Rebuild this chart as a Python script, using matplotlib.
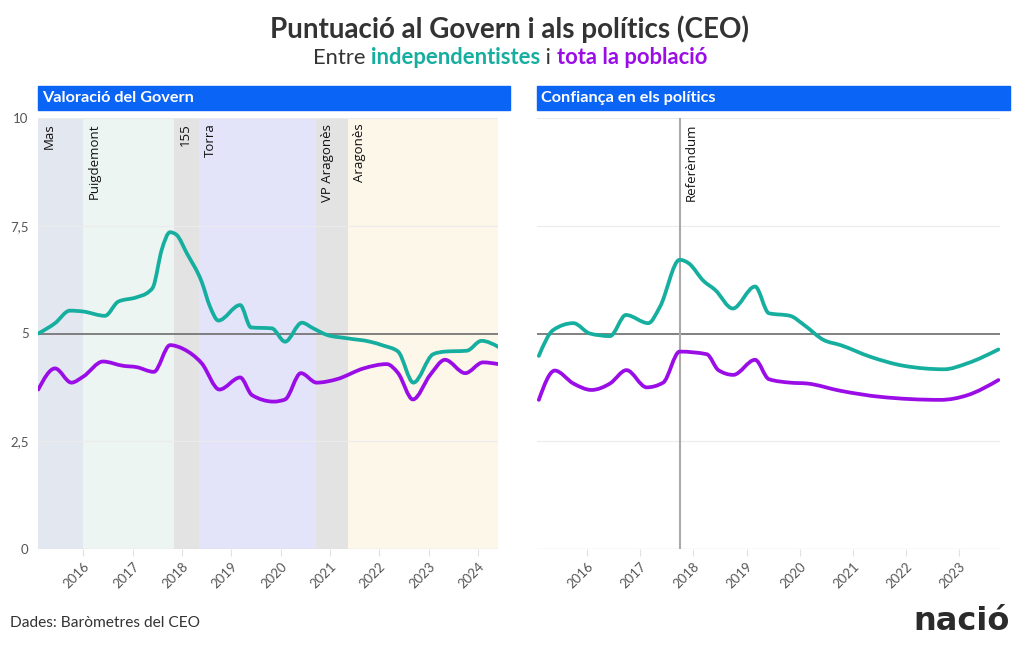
import matplotlib
matplotlib.use("Agg")
import matplotlib.pyplot as plt
from matplotlib.patches import Rectangle, PathPatch
from matplotlib.path import Path
import numpy as np

plt.rcParams['font.family'] = ['Lato', 'DejaVu Sans']

# ---------------- data ----------------
# Left panel: Valoració del Govern
gov_ind_t = [2015.09, 2015.43, 2015.73, 2016.00, 2016.44, 2016.71, 2017.08, 2017.33, 2017.42,
             2017.59, 2017.76, 2017.89, 2018.10, 2018.40, 2018.57, 2018.74, 2019.18, 2019.40,
             2019.82, 2020.09, 2020.43, 2020.66, 2020.93, 2021.34, 2021.81, 2022.08, 2022.38,
             2022.69, 2023.09, 2023.33, 2023.77, 2024.07, 2024.41]
gov_ind_v = [5.00, 5.24, 5.53, 5.51, 5.41, 5.74, 5.84, 5.97, 6.09,
             6.94, 7.35, 7.29, 6.86, 6.20, 5.62, 5.30, 5.66, 5.14,
             5.12, 4.81, 5.25, 5.12, 4.97, 4.89, 4.81, 4.72, 4.58,
             3.86, 4.52, 4.58, 4.60, 4.83, 4.69]

gov_all_t = [2015.09, 2015.43, 2015.76, 2016.00, 2016.40, 2016.81, 2017.08, 2017.43, 2017.76,
             2018.03, 2018.40, 2018.76, 2019.18, 2019.42, 2019.86, 2020.09, 2020.41, 2020.73,
             2021.14, 2021.68, 2022.15, 2022.38, 2022.68, 2023.03, 2023.33, 2023.74, 2024.10,
             2024.41]
gov_all_v = [3.70, 4.19, 3.86, 4.00, 4.35, 4.25, 4.22, 4.11, 4.73,
             4.64, 4.31, 3.70, 3.98, 3.57, 3.42, 3.47, 4.08, 3.86,
             3.94, 4.19, 4.29, 4.08, 3.47, 4.04, 4.39, 4.08, 4.33,
             4.29]

# Right panel: Confiança en els polítics
pol_ind_t = [2015.09, 2015.36, 2015.74, 2016.05, 2016.43, 2016.73, 2017.15, 2017.37, 2017.74,
             2017.91, 2018.19, 2018.41, 2018.74, 2019.16, 2019.42, 2019.82, 2020.08, 2020.45,
             2020.77, 2021.33, 2021.96, 2022.72, 2023.16, 2023.74]
pol_ind_v = [4.48, 5.08, 5.24, 5.00, 4.94, 5.43, 5.24, 5.62, 6.71,
             6.63, 6.22, 6.01, 5.58, 6.09, 5.47, 5.41, 5.20, 4.85,
             4.73, 4.46, 4.25, 4.17, 4.31, 4.63]

pol_all_t = [2015.09, 2015.39, 2015.74, 2016.08, 2016.43, 2016.74, 2017.12, 2017.43, 2017.74,
             2018.25, 2018.47, 2018.75, 2019.16, 2019.42, 2019.82, 2020.14, 2020.77, 2021.52,
             2022.65, 2023.16, 2023.74]
pol_all_v = [3.46, 4.14, 3.84, 3.69, 3.84, 4.15, 3.75, 3.86, 4.58,
             4.52, 4.15, 4.04, 4.39, 3.94, 3.86, 3.84, 3.67, 3.53,
             3.46, 3.57, 3.92]

# Government periods
period_labels = ['Mas', 'Puigdemont', '155', 'Torra', 'VP Aragonès', 'Aragonès']
period_start = [2015.09, 2016.00, 2017.84, 2018.34, 2020.71, 2021.36]
period_end = [2016.00, 2017.84, 2018.34, 2020.71, 2021.36, 2024.41]
period_colors = ['#e3e8f0', '#edf5f3', '#e3e3e3', '#e3e3fa', '#e3e3e3', '#fdf7ea']

referendum_t = 2017.75
years_left = [2016, 2017, 2018, 2019, 2020, 2021, 2022, 2023, 2024]
years_right = [2016, 2017, 2018, 2019, 2020, 2021, 2022, 2023]
yticks = [0, 2.5, 5, 7.5, 10]
ytick_labels = ['0', '2,5', '5', '7,5', '10']

TEAL = '#15ae9f'
PURPLE = '#9a0de6'
BLUE = '#0a64f5'


def monotone_path(xs, ys):
    """Smooth monotone-x cubic path through the data points (as d3 curveMonotoneX)."""
    x = np.asarray(xs, float)
    y = np.asarray(ys, float)
    n = len(x)
    h = np.diff(x)
    s = np.diff(y) / h
    m = np.zeros(n)
    for i in range(1, n - 1):
        h0, h1, s0, s1 = h[i - 1], h[i], s[i - 1], s[i]
        p = (s0 * h1 + s1 * h0) / (h0 + h1)
        m[i] = (np.sign(s0) + np.sign(s1)) * min(abs(s0), abs(s1), 0.5 * abs(p))
    m[0] = (3 * s[0] - m[1]) / 2
    m[-1] = (3 * s[-1] - m[-2]) / 2
    verts = [(x[0], y[0])]
    codes = [Path.MOVETO]
    for i in range(n - 1):
        dx = h[i] / 3
        verts += [(x[i] + dx, y[i] + m[i] * dx),
                  (x[i + 1] - dx, y[i + 1] - m[i + 1] * dx),
                  (x[i + 1], y[i + 1])]
        codes += [Path.CURVE4] * 3
    return Path(verts, codes)


def smooth_line(ax, xs, ys, color):
    patch = PathPatch(monotone_path(xs, ys), facecolor='none', edgecolor=color,
                      lw=2.7, joinstyle='round', capstyle='round', zorder=4)
    ax.add_patch(patch)


# ---------------- figure ----------------
W, H = 1020, 650
fig = plt.figure(figsize=(W / 100, H / 100), dpi=100)


def fx(px):
    return px / W


def fy(py):
    return 1 - py / H


axL = fig.add_axes([fx(38.3), fy(549), fx(498.3 - 38.3), fy(118) - fy(549)])
axR = fig.add_axes([fx(536.7), fy(549), fx(1000 - 536.7), fy(118) - fy(549)])


def style(ax, xlim, years, show_y):
    ax.set_xlim(*xlim)
    ax.set_ylim(0, 10)
    for s in ax.spines.values():
        s.set_visible(False)
    for yv in [2.5, 7.5, 10]:
        ax.axhline(yv, color='#ebebeb', lw=0.8, zorder=1)
    ax.axhline(0, color='#e2e2e2', lw=1.0, zorder=1)
    ax.axhline(5, color='#777777', lw=1.3, zorder=2)
    ax.set_xticks(years)
    ax.set_xticklabels([str(y) for y in years], rotation=45, ha='right',
                       rotation_mode='anchor', fontsize=9.5, color='#555555')
    ax.tick_params(axis='x', length=5, color='#e2e2e2', pad=3)
    ax.set_yticks(yticks)
    if show_y:
        ax.set_yticklabels(ytick_labels, fontsize=9.5, color='#555555')
        ax.tick_params(axis='y', length=0, pad=7)
    else:
        ax.set_yticklabels([])
        ax.tick_params(axis='y', length=0)


style(axL, (2015.09, 2024.41), years_left, True)
style(axR, (2015.05, 2023.77), years_right, False)

# periods
for lab, s, e, c in zip(period_labels, period_start, period_end, period_colors):
    axL.axvspan(s, e, color=c, lw=0, zorder=0)
    axL.annotate(lab, xy=(s, 10), xytext=(3.5, -4), textcoords='offset points',
                 rotation=90, ha='left', va='top', fontsize=9.5, color='#111111',
                 family=['Open Sans', 'DejaVu Sans'], zorder=5)

smooth_line(axL, gov_ind_t, gov_ind_v, TEAL)
smooth_line(axL, gov_all_t, gov_all_v, PURPLE)

axR.axvline(referendum_t, color='#aaaaaa', lw=1.5, zorder=3)
axR.annotate('Referèndum', xy=(referendum_t, 10), xytext=(3.5, -4),
             textcoords='offset points', rotation=90, ha='left', va='top',
             fontsize=9.5, color='#111111', family=['Open Sans', 'DejaVu Sans'])
smooth_line(axR, pol_ind_t, pol_ind_v, TEAL)
smooth_line(axR, pol_all_t, pol_all_v, PURPLE)

# header bars
for x0, x1, txt in [(38, 510, 'Valoració del Govern'), (537, 1010, 'Confiança en els polítics')]:
    fig.patches.append(Rectangle((fx(x0), fy(110)), fx(x1 - x0), fy(86) - fy(110),
                                 transform=fig.transFigure, color=BLUE, zorder=0))
    fig.text(fx(x0 + 4), fy(98), txt, color='white', fontsize=11.7, fontweight='bold',
             va='center', ha='left')

# titles
fig.text(0.5, fy(29), 'Puntuació al Govern i als polítics (CEO)', ha='center', va='center',
         fontsize=20, fontweight='bold', color='#333333')

# subtitle with coloured parts
parts = [('Entre ', '#333333', 'normal'), ('independentistes', TEAL, 'bold'),
         (' i ', '#333333', 'normal'), ('tota la població', PURPLE, 'bold')]
fig.canvas.draw()
renderer = fig.canvas.get_renderer()
texts = []
widths = []
for s, c, w in parts:
    t = fig.text(0, fy(58), s, color=c, fontweight=w, fontsize=15.8, va='center', ha='left')
    bb = t.get_window_extent(renderer=renderer)
    texts.append(t)
    widths.append(bb.width)
total = sum(widths)
x = (W - total) / 2
for t, wd in zip(texts, widths):
    t.set_x(x / W)
    x += wd

fig.text(fx(10), fy(623), 'Dades: Baròmetres del CEO', fontsize=11.2, color='#333333',
         va='center', ha='left')
fig.text(fx(1010), fy(621), 'nació', fontsize=23, fontweight='bold', color='#2b2b2b',
         family=['DejaVu Sans'], va='center', ha='right')

fig.savefig('out.png', dpi=100)
